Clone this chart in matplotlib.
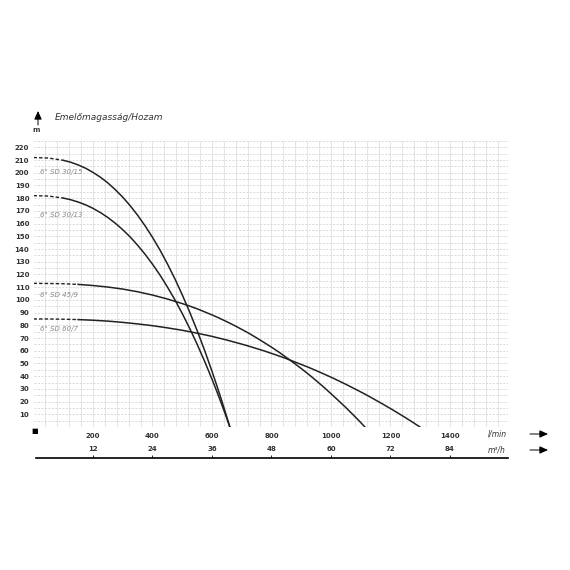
import matplotlib
matplotlib.use('Agg')
import matplotlib.pyplot as plt
import numpy as np

# Adatok: Q l/min, H m
q_30_15 = [0, 50, 100, 125, 150, 175, 200, 225, 250, 275, 300, 325, 350, 375, 400, 425, 450,
           475, 500, 525, 550, 575, 600, 615, 630, 645, 660]
h_30_15 = [212, 211.6, 209.8, 208.3, 206.2, 203.6, 200.3, 196.5, 192.0, 186.7, 180.8, 174.1,
           166.6, 158.3, 149.2, 139.3, 128.4, 116.7, 104.0, 90.4, 75.9, 60.4, 43.8, 33.4, 22.7, 11.5, 0]

q_30_13 = [0, 50, 100, 125, 150, 175, 200, 225, 250, 275, 300, 325, 350, 375, 400, 425, 450,
           475, 500, 525, 550, 575, 600, 615, 630, 645, 660]
h_30_13 = [182, 181.7, 180.1, 178.8, 177.0, 174.8, 172.0, 168.7, 164.8, 160.3, 155.2, 149.5,
           143.0, 135.9, 128.1, 119.6, 110.2, 100.2, 89.3, 77.6, 65.1, 51.8, 37.6, 28.7, 19.5, 9.9, 0]

q_45_9 = [0, 50, 100, 150, 200, 250, 300, 350, 400, 450, 500, 525, 550, 575, 600, 625, 650, 675,
          700, 725, 750, 775, 800, 825, 850, 875, 900, 925, 950, 975, 1000, 1025, 1050, 1080,
          1100, 1114]
h_45_9 = [113, 112.9, 112.7, 112.2, 111.3, 110.1, 108.5, 106.4, 103.8, 100.7, 97.1, 95.1, 93.0,
          90.6, 88.2, 85.6, 82.8, 79.9, 76.8, 73.6, 70.1, 66.5, 62.8, 58.9, 54.7, 50.4, 46.0,
          41.4, 36.5, 31.5, 26.2, 20.8, 15.3, 8.3, 3.5, 0]

q_60_7 = [0, 50, 100, 150, 200, 250, 300, 350, 400, 450, 500, 550, 600, 650, 700, 725, 750, 775,
          800, 825, 850, 875, 900, 925, 950, 975, 1000, 1025, 1050, 1075, 1100, 1125, 1150, 1175,
          1200, 1225, 1250, 1275, 1299]
h_60_7 = [85, 85.0, 84.8, 84.5, 84.0, 83.3, 82.3, 81.1, 79.7, 78.0, 76.1, 73.8, 71.3, 68.4, 65.2,
          63.5, 61.7, 59.9, 57.9, 55.9, 53.8, 51.5, 49.2, 46.9, 44.4, 41.8, 39.2, 36.4, 33.6,
          30.6, 27.6, 24.5, 21.2, 17.9, 14.5, 11.0, 7.4, 3.7, 0]

curves = [
    ('6" SD 30/15', q_30_15, h_30_15, 90, 201),
    ('6" SD 30/13', q_30_13, h_30_13, 90, 167),
    ('6" SD 45/9', q_45_9, h_45_9, 150, 104),
    ('6" SD 60/7', q_60_7, h_60_7, 150, 77),
]

lmin_ticks = [200, 400, 600, 800, 1000, 1200, 1400]
m3h_ticks = [12, 24, 36, 48, 60, 72, 84]
y_ticks = list(range(10, 230, 10))

W = H = 570
fig = plt.figure(figsize=(5.7, 5.7), dpi=100)

x0, x1 = 33.5, 508
y0, y1 = 427, 141
ax = fig.add_axes([x0 / W, 1 - y0 / H, (x1 - x0) / W, (y0 - y1) / H])
ax.set_xlim(0, 1595)
ax.set_ylim(0, 225)

# rács
for gx in np.arange(40, 1595, 40):
    ax.axvline(gx, color='#e0e0e0', lw=0.6, zorder=0)
for gy in np.arange(5, 226, 5):
    ax.axhline(gy, color='#cdcdcd', lw=0.5, ls=(0, (3, 2)), zorder=0)

for name, q, h, qd, ly in curves:
    q = np.array(q)
    h = np.array(h)
    dash = q <= qd + 10
    ax.plot(q[dash], h[dash], color='#222222', lw=1.0, ls=(0, (2.5, 1.5)))
    ax.plot(q[q >= qd], h[q >= qd], color='#222222', lw=1.1)
    ax.text(22, ly, name, fontsize=5, style='italic', color='#8a8a8a', va='center')

for s in ax.spines.values():
    s.set_visible(False)
ax.set_yticks(y_ticks)
ax.set_xticks(lmin_ticks)
ax.tick_params(length=0, labelsize=5, pad=3)
ax.tick_params(axis='x', pad=4)
for lab in ax.get_xticklabels() + ax.get_yticklabels():
    lab.set_fontweight('bold')
    lab.set_color('#333333')

# második tengely (m³/h)
ax2 = fig.add_axes([x0 / W, 1 - 458 / H, (x1 - x0) / W, 0.0001])
ax2.set_xlim(0, 1595)
ax2.set_yticks([])
for k in ['bottom', 'left', 'right']:
    ax2.spines[k].set_visible(False)
ax2.spines['top'].set_linewidth(1.2)
ax2.spines['top'].set_bounds(8, 1595)
ax2.xaxis.tick_top()
ax2.set_xticks([v * 1000 / 60 for v in m3h_ticks])
ax2.set_xticklabels([str(v) for v in m3h_ticks])
ax2.tick_params(axis='x', direction='out', length=2.5, width=0.6, labelsize=5, pad=2)
for lab in ax2.get_xticklabels():
    lab.set_fontweight('bold')
    lab.set_color('#333333')

# feliratok
fig.text(55 / W, 1 - 118 / H, 'Emelőmagasság/Hozam', fontsize=6.5, style='italic',
         color='#333333', va='center')
fig.text(36 / W, 1 - 130 / H, 'm', fontsize=5, fontweight='bold', color='#333333',
         va='center', ha='center')
fig.text(35 / W, 1 - 431 / H, '■', fontsize=5, color='black', va='center', ha='center')
fig.text(497 / W, 1 - 434 / H, 'l/min', fontsize=5.5, style='italic', color='#333333',
         va='center', ha='center')
fig.text(497 / W, 1 - 450 / H, 'm³/h', fontsize=5.5, style='italic', color='#333333',
         va='center', ha='center')

arrow = dict(arrowstyle='-|>,head_length=1.0,head_width=0.45', color='black', lw=0.7,
             mutation_scale=5, shrinkA=0, shrinkB=0)
fig.add_artist(matplotlib.patches.FancyArrowPatch((38 / W, 1 - 125 / H), (38 / W, 1 - 111 / H),
                                                  transform=fig.transFigure, **arrow))
for yy in (434, 450):
    fig.add_artist(matplotlib.patches.FancyArrowPatch((530 / W, 1 - yy / H), (548 / W, 1 - yy / H),
                                                      transform=fig.transFigure, **arrow))

fig.savefig('out.png', dpi=100)
